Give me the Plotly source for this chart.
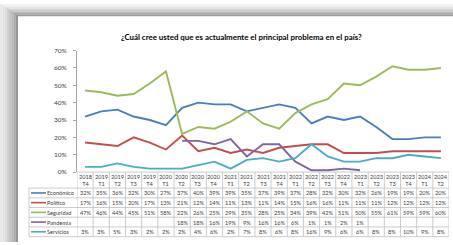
import plotly.graph_objects as go

W, H = 453, 245

title = "¿Cuál cree usted que es actualmente el principal problema en el país?"
years = ["2018", "2019", "2019", "2019", "2019", "2020", "2020", "2020", "2020",
         "2021", "2021", "2021", "2021", "2022", "2022", "2022", "2022",
         "2023", "2023", "2023", "2023", "2024", "2024"]
quarters = ["T4", "T1", "T2", "T3", "T4", "T1", "T2", "T3", "T4",
            "T1", "T2", "T3", "T4", "T1", "T2", "T3", "T4",
            "T1", "T2", "T3", "T4", "T1", "T2"]
categories = [f"{y} {q}" for y, q in zip(years, quarters)]

economico = [32, 35, 36, 32, 30, 27, 37, 40, 39, 39, 35, 37, 39, 37, 28, 32, 30, 32, 26, 19, 19, 20, 20]
politico = [17, 16, 15, 20, 17, 13, 21, 12, 14, 11, 13, 11, 14, 15, 16, 16, 11, 11, 11, 12, 12, 12, 12]
seguridad = [47, 46, 44, 45, 51, 58, 22, 26, 25, 29, 35, 28, 25, 34, 39, 42, 51, 50, 55, 61, 59, 59, 60]
pandemia = [None, None, None, None, None, None, 18, 18, 16, 19, 9, 16, 16, 6, 1, 1, 2, 1,
            None, None, None, None, None]
servicios = [3, 3, 5, 3, 2, 2, 2, 4, 6, 2, 7, 8, 6, 8, 16, 9, 6, 6, 8, 8, 10, 9, 8]

series_names = ["Económico", "Político", "Seguridad", "Pandemia", "Servicios"]
series_values = [economico, politico, seguridad, pandemia, servicios]
colors = ["#4A7EBB", "#C0504D", "#9BBB59", "#8064A2", "#4BACC6"]

FONT = "Lato"


def py(px):
    return 1 - px / H


def pxx(px):
    return px / W


x0_px, x1_px = 77, 449
y_top, y_bot = 48, 173
hdr_bot = 189.5
row_h = 10
tbl_left = 29

fig = go.Figure()
for name, vals, c in zip(series_names, series_values, colors):
    fig.add_trace(go.Scatter(
        x=categories, y=[None if v is None else v / 100 for v in vals],
        mode="lines", name=name, line=dict(color=c, width=1.9),
        connectgaps=False, showlegend=False, hoverinfo="skip"))

shapes = []
annotations = []

# shadow frame (top and left)
top_edge, left_edge = 12.5, 18
n = 8
for i in range(n):
    t = i / (n - 1)
    g = int(242 - 90 * t ** 1.5)
    col = f"rgb({g},{g},{g})"
    ya = top_edge * i / n
    yb = top_edge * (i + 1) / n
    shapes.append(dict(type="rect", xref="paper", yref="paper", layer="below",
                       x0=pxx(left_edge * i / n), x1=1, y0=py(yb), y1=py(ya),
                       fillcolor=col, line=dict(width=0)))
    gl = int(232 - 82 * t ** 1.5)
    coll = f"rgb({gl},{gl},{gl})"
    xa = left_edge * i / n
    xb = left_edge * (i + 1) / n
    shapes.append(dict(type="rect", xref="paper", yref="paper", layer="below",
                       x0=pxx(xa), x1=pxx(xb), y0=0, y1=py(top_edge * i / n),
                       fillcolor=coll, line=dict(width=0)))

grid = "#BFBFBF"
rows_top = hdr_bot
rows_bot = hdr_bot + row_h * len(series_names)
# vertical lines of table
for i in range(len(categories) + 1):
    shapes.append(dict(type="line", xref="x", yref="paper", x0=i - 0.5, x1=i - 0.5,
                       y0=py(rows_bot), y1=py(y_bot), line=dict(color=grid, width=0.8)))
shapes.append(dict(type="line", xref="paper", yref="paper", x0=pxx(tbl_left), x1=pxx(tbl_left),
                   y0=py(rows_bot), y1=py(rows_top), line=dict(color=grid, width=0.8)))
# horizontal lines
shapes.append(dict(type="line", xref="paper", yref="paper", x0=pxx(x0_px), x1=pxx(x1_px),
                   y0=py(y_bot), y1=py(y_bot), line=dict(color=grid, width=0.8)))
for r in range(len(series_names) + 1):
    yy = rows_top + r * row_h
    shapes.append(dict(type="line", xref="paper", yref="paper", x0=pxx(tbl_left), x1=pxx(x1_px),
                       y0=py(yy), y1=py(yy), line=dict(color=grid, width=0.8)))

tfont = dict(family=FONT, size=5.6, color="#404040")
# header
for cat, yv, q in zip(categories, years, quarters):
    annotations.append(dict(x=cat, y=py(181.5), xref="x", yref="paper", text=f"{yv}<br>{q}",
                            showarrow=False, font=tfont, xanchor="center", yanchor="middle",
                            borderpad=0))
# rows
for r, (name, vals, c) in enumerate(zip(series_names, series_values, colors)):
    yc = rows_top + r * row_h + row_h / 2
    shapes.append(dict(type="line", xref="paper", yref="paper", x0=pxx(31), x1=pxx(46),
                       y0=py(yc), y1=py(yc), line=dict(color=c, width=1.6)))
    annotations.append(dict(x=pxx(46), y=py(yc), xref="paper", yref="paper", text=name,
                            showarrow=False, font=tfont, xanchor="left", yanchor="middle",
                            borderpad=0))
    for cat, v in zip(categories, vals):
        if v is None:
            continue
        annotations.append(dict(x=cat, y=py(yc), xref="x", yref="paper", text=f"{v}%",
                                showarrow=False, font=tfont, xanchor="center", yanchor="middle",
                                borderpad=0))

annotations.append(dict(x=pxx(241), y=py(34), xref="paper", yref="paper", text=f"<b>{title}</b>",
                        showarrow=False, font=dict(family=FONT, size=7.9, color="#000000"),
                        xanchor="center", yanchor="middle"))

fig.update_layout(
    width=W, height=H, margin=dict(l=0, r=0, t=0, b=0),
    paper_bgcolor="white", plot_bgcolor="white",
    shapes=shapes, annotations=annotations, showlegend=False,
    xaxis=dict(type="category", range=[-0.5, len(categories) - 0.5],
               domain=[pxx(x0_px), pxx(x1_px)], showticklabels=False, showgrid=False,
               zeroline=False, showline=False, ticks=""),
    yaxis=dict(range=[0, 0.7], domain=[py(y_bot), py(y_top)], dtick=0.1, tickformat=".0%",
               showgrid=False, zeroline=False, showline=True, linecolor="#A6A6A6", linewidth=0.8,
               ticks="outside", ticklen=3, tickcolor="#A6A6A6", tickwidth=0.8,
               ticklabelstandoff=5,
               tickfont=dict(family=FONT, size=6.5, color="#404040")),
)

fig.write_html("out.html", config={"displayModeBar": False},
               post_script="document.body.style.margin='0';document.body.style.overflow='hidden';")
